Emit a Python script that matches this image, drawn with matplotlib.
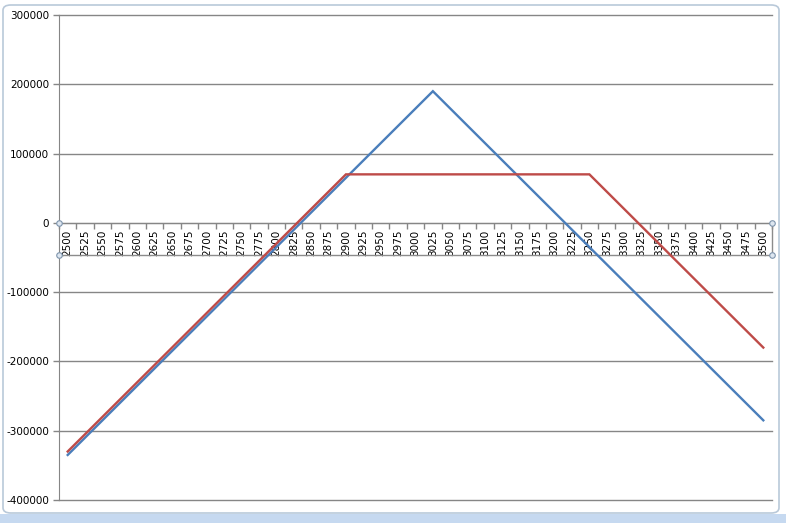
import matplotlib
matplotlib.use("Agg")
import matplotlib.pyplot as plt
from matplotlib.patches import FancyBboxPatch, Rectangle
from matplotlib.transforms import blended_transform_factory

categories = [2500, 2525, 2550, 2575, 2600, 2625, 2650, 2675, 2700, 2725, 2750,
              2775, 2800, 2825, 2850, 2875, 2900, 2925, 2950, 2975, 3000, 3025,
              3050, 3075, 3100, 3125, 3150, 3175, 3200, 3225, 3250, 3275, 3300,
              3325, 3350, 3375, 3400, 3425, 3450, 3475, 3500]
blue_values = [-335000, -310000, -285000, -260000, -235000, -210000, -185000,
               -160000, -135000, -110000, -85000, -60000, -35000, -10000, 15000,
               40000, 65000, 90000, 115000, 140000, 165000, 190000, 165000,
               140000, 115000, 90000, 65000, 40000, 15000, -10000, -35000,
               -60000, -85000, -110000, -135000, -160000, -185000, -210000,
               -235000, -260000, -285000]
red_values = [-330000, -305000, -280000, -255000, -230000, -205000, -180000,
              -155000, -130000, -105000, -80000, -55000, -30000, -5000, 20000,
              45000, 70000, 70000, 70000, 70000, 70000, 70000, 70000, 70000,
              70000, 70000, 70000, 70000, 70000, 70000, 70000, 45000, 20000,
              -5000, -30000, -55000, -80000, -105000, -130000, -155000, -180000]
y_ticks = [-400000, -300000, -200000, -100000, 0, 100000, 200000, 300000]

W, H = 786, 523
fig = plt.figure(figsize=(W / 100, H / 100), dpi=100)
fig.patch.set_facecolor("white")

# outer chart frame and window strip
fig.patches.append(Rectangle((0, 0), 1, 9 / H, transform=fig.transFigure,
                             facecolor="#c6d9f0", edgecolor="none", zorder=-2))
fig.patches.append(FancyBboxPatch((3 / W, 10 / H), 776 / W, 508 / H,
                                  boxstyle="round,pad=0,rounding_size=0.01",
                                  transform=fig.transFigure, facecolor="white",
                                  edgecolor="#b9c9d9", linewidth=1.2, zorder=-1))

left, right = 59 / W, 772 / W
bottom, top = 1 - 500 / H, 1 - 15 / H
ax = fig.add_axes([left, bottom, right - left, top - bottom])
ax.set_zorder(1)
ax.set_facecolor("none")

x = list(range(len(categories)))
ax.plot(x, blue_values, color="#4a7ebb", linewidth=1.7, solid_joinstyle="miter", zorder=3)
ax.plot(x, red_values, color="#be4b48", linewidth=1.7, solid_joinstyle="miter", zorder=3)

ax.set_xlim(-0.5, len(categories) - 0.5)
ax.set_ylim(-400000, 300000)
ax.set_yticks(y_ticks)
ax.set_yticklabels([str(v) for v in y_ticks], fontsize=7.5, family="DejaVu Sans")
ax.grid(axis="y", color="#868686", linewidth=1)
for gl in ax.get_ygridlines():
    gl.set_clip_on(False)
ax.set_axisbelow(True)
ax.tick_params(axis="y", length=4, color="#868686", width=1, pad=3)

ax.spines["top"].set_visible(False)
ax.spines["right"].set_visible(False)
ax.spines["left"].set_color("#868686")
ax.spines["bottom"].set_color("#868686")
ax.spines["bottom"].set_position(("data", 0))

ax.set_xticks(x)
ax.set_xticklabels([str(c) for c in categories], rotation=90, fontsize=7.5,
                   family="DejaVu Sans")
ax.set_xticks([i - 0.5 for i in range(len(categories) + 1)], minor=True)
ax.tick_params(axis="x", which="major", length=0, pad=5)
ax.tick_params(axis="x", which="minor", length=4, color="#868686", width=1)

# selection box around the category axis labels
tr = blended_transform_factory(ax.transData, ax.transData)
y_box = -46000
ax.plot([-0.5, 40.5, 40.5], [y_box, y_box, 0], color="#8c8c8c", linewidth=1,
        transform=tr, clip_on=False, zorder=2)
for (cx, cy) in [(-0.5, 0), (40.5, 0), (-0.5, y_box), (40.5, y_box)]:
    ax.plot([cx], [cy], marker="o", markersize=4, markerfacecolor="#dde6f0",
            markeredgecolor="#7f95ad", markeredgewidth=0.8, clip_on=False, zorder=5)

fig.savefig("out.png", dpi=100)
